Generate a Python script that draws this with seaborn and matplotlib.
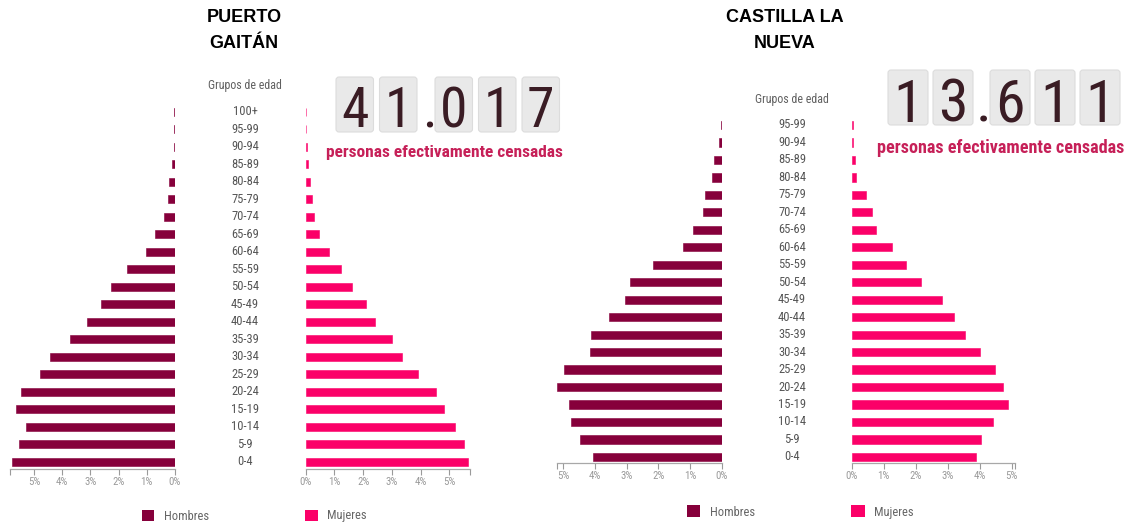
import matplotlib
matplotlib.use("Agg")
import matplotlib.pyplot as plt
import matplotlib.transforms as mtransforms
from matplotlib import font_manager as fm
from matplotlib.patches import FancyBboxPatch, Patch
import numpy as np
import pandas as pd
import seaborn as sns

# ---------------- data ----------------
PG_EDADES = ['100+', '95-99', '90-94', '85-89', '80-84', '75-79', '70-74', '65-69',
             '60-64', '55-59', '50-54', '45-49', '40-44', '35-39', '30-34', '25-29',
             '20-24', '15-19', '10-14', '5-9', '0-4']
PG_HOMBRES = [0.02, 0.02, 0.05, 0.10, 0.20, 0.26, 0.39, 0.70, 1.03, 1.71, 2.28,
              2.62, 3.13, 3.73, 4.42, 4.78, 5.47, 5.64, 5.30, 5.54, 5.77]
PG_MUJERES = [0.01, 0.02, 0.04, 0.08, 0.15, 0.22, 0.29, 0.47, 0.80, 1.23, 1.61,
              2.10, 2.43, 3.01, 3.37, 3.92, 4.53, 4.80, 5.20, 5.51, 5.65]
PG_TITULO = ['PUERTO', 'GAITÁN']
PG_TOTAL = 41017

CLN_EDADES = ['95-99', '90-94', '85-89', '80-84', '75-79', '70-74', '65-69',
              '60-64', '55-59', '50-54', '45-49', '40-44', '35-39', '30-34', '25-29',
              '20-24', '15-19', '10-14', '5-9', '0-4']
CLN_HOMBRES = [0.03, 0.07, 0.23, 0.31, 0.52, 0.60, 0.90, 1.23, 2.16, 2.88, 3.05,
               3.55, 4.13, 4.15, 4.97, 5.18, 4.82, 4.75, 4.46, 4.06]
CLN_MUJERES = [0.05, 0.05, 0.10, 0.12, 0.44, 0.64, 0.76, 1.26, 1.70, 2.16, 2.83,
               3.21, 3.54, 4.02, 4.49, 4.74, 4.87, 4.41, 4.03, 3.88]
CLN_TITULO = ['CASTILLA LA', 'NUEVA']
CLN_TOTAL = 13611

PCT_TICKS = [0, 1, 2, 3, 4, 5]
SUBTITULO = 'personas efectivamente censadas'
EJE_TITULO = 'Grupos de edad'
LEYENDA = ['Hombres', 'Mujeres']

# ---------------- style ----------------
C_H = '#86003b'
C_M = '#fb0068'
C_TXT = '#c62058'
C_DIG = '#3a1c24'

sns.set_theme(style='white')
plt.rcParams['font.family'] = ['Roboto', 'DejaVu Sans']

COND = ['Roboto Condensed', 'IBM Plex Sans Condensed', 'Archivo Narrow',
        'PT Sans Narrow', 'Liberation Sans Narrow', 'Open Sans Condensed',
        'Fira Sans Condensed', 'Encode Sans Condensed', 'Barlow Condensed']


def font(weight):
    ttf = fm.fontManager.ttflist
    first = None
    for c in COND:
        fs = [f for f in ttf if f.name == c and 'italic' not in f.fname.lower()
              and f.style == 'normal']
        if not fs:
            continue
        best = min(fs, key=lambda f: abs(int(f.weight) - weight)
                   if str(f.weight).isdigit() else 999)
        if first is None:
            first = best
        if str(best.weight).isdigit() and abs(int(best.weight) - weight) <= 100:
            return best.fname
    return first.fname if first is not None else None


def fp(weight, size):
    fn = font(weight)
    if fn:
        return fm.FontProperties(fname=fn, size=size)
    return fm.FontProperties(family='Roboto', weight=weight, size=size)


W, H = 1131, 524
fig = plt.figure(figsize=(W / 100, H / 100), dpi=100)
fig.patch.set_facecolor('white')


def add_ax(x0, x1, y0, y1):
    return fig.add_axes([x0 / W, 1 - y1 / H, (x1 - x0) / W, (y1 - y0) / H])


over = fig.add_axes([0, 0, 1, 1])
over.set_xlim(0, W)
over.set_ylim(H, 0)
over.axis('off')
over.patch.set_visible(False)
over.set_zorder(5)


def pct_axis(ax, lim, invert):
    ax.set_xlim(0, lim)
    if invert:
        ax.invert_xaxis()
    ax.set_xticks(PCT_TICKS)
    ax.set_xticklabels([f'{t}%' for t in PCT_TICKS], fontproperties=fp(400, 7.8))
    ax.set_xticks([lim], minor=True)
    ax.tick_params(axis='x', which='both', bottom=True, length=4, width=0.8,
                   color='#9a9a9a', labelcolor='#9a9a9a', pad=2,
                   direction='out')
    ax.set_yticks([])
    ax.set_xlabel('')
    ax.set_ylabel('')
    for s in ['top', 'left', 'right']:
        ax.spines[s].set_visible(False)
    ax.spines['bottom'].set_color('#a8a8a8')
    ax.spines['bottom'].set_linewidth(0.9)
    ax.patch.set_visible(False)


def panel(edades, hombres, mujeres, cfg):
    df = pd.DataFrame({'edad': edades, 'Hombres': hombres, 'Mujeres': mujeres})
    y_top = cfg['row0'] - cfg['step'] / 2
    y_bot = cfg['axis_y']
    ylim_bot = (cfg['axis_y'] - cfg['row0']) / cfg['step']
    axm = add_ax(cfg['mx'][0], cfg['mx'][1], y_top, y_bot)
    axw = add_ax(cfg['wx'][0], cfg['wx'][1], y_top, y_bot)
    sns.barplot(data=df, x='Hombres', y='edad', ax=axm, color=C_H, saturation=1,
                width=0.47, orient='h', order=edades, edgecolor=C_H, linewidth=0.4)
    sns.barplot(data=df, x='Mujeres', y='edad', ax=axw, color=C_M, saturation=1,
                width=0.47, orient='h', order=edades, edgecolor=C_M, linewidth=0.4)
    for a in (axm, axw):
        a.set_ylim(ylim_bot, -0.5)
    pct_axis(axm, cfg['mlim'], True)
    pct_axis(axw, cfg['wlim'], False)

    # age labels
    tr = mtransforms.blended_transform_factory(over.transData, axm.transData)
    for i, e in enumerate(edades):
        over.text(cfg['lab_x'], i, e, transform=tr, ha='center', va='center',
                  fontproperties=fp(400, 9), color='#555555')
    over.text(cfg['lab_x'], cfg['gde_y'], EJE_TITULO, ha='center', va='center',
              fontproperties=fp(400, 8.6), color='#606060')

    # titles
    for k, t in enumerate(cfg['titulo']):
        over.text(cfg['tit_x'], 18 + 25 * k, t, ha='center', va='center',
                  fontsize=13, fontweight='bold', color='black',
                  family='Liberation Sans')

    # counter
    s = f"{cfg['total']:,}".replace(',', '.')
    x = cfg['box_x0']
    bw = cfg['box_w']
    dfp = fp(400, cfg['dig_fs'])
    for ch in s:
        if ch == '.':
            over.text(x + 6, cfg['base'], '.', ha='center', va='baseline',
                      fontproperties=dfp, color=C_DIG)
            x += 12
            continue
        over.add_patch(FancyBboxPatch((x + 2, cfg['box_y0'] + 2), bw - 4,
                                      cfg['box_h'] - 4,
                                      boxstyle='round,pad=2,rounding_size=3',
                                      fc='#e9e9e9', ec='#dcdcdc', lw=0.8))
        over.text(x + bw / 2, cfg['base'], ch, ha='center', va='baseline',
                  fontproperties=dfp, color=C_DIG)
        x += bw + cfg['gap']

    sfp = fp(700, 12)
    t = over.text(cfg['sub_x'], cfg['sub_y'], SUBTITULO, ha='center', va='center',
                  fontproperties=sfp, color=C_TXT)
    r = fig.canvas.get_renderer()
    wpx = t.get_window_extent(r).width
    t.set_fontsize(12 * cfg['sub_w'] / wpx)

    # legends
    for lab, col, lx in zip(LEYENDA, [C_H, C_M], cfg['leg_x']):
        fig.legend(handles=[Patch(facecolor=col, edgecolor='none')], labels=[lab],
                   loc='center left', bbox_to_anchor=(lx / W, 1 - cfg['leg_y'] / H),
                   frameon=False, prop=fp(400, 9), handlelength=cfg['leg_h'],
                   handleheight=cfg['leg_h'], handletextpad=0.75, borderpad=0,
                   borderaxespad=0, labelcolor='#666666')


panel(PG_EDADES, PG_HOMBRES, PG_MUJERES, dict(
    row0=111.7, step=17.5, axis_y=469, mx=(10, 175), wx=(305.7, 470),
    mlim=5.85, wlim=5.72, lab_x=245, gde_y=86, titulo=PG_TITULO, tit_x=244,
    total=PG_TOTAL, box_x0=336, box_w=37.5, gap=6, box_y0=77, box_h=55,
    base=127, dig_fs=40, sub_x=444, sub_y=152, sub_w=238,
    leg_x=(141.7, 305), leg_y=516, leg_h=1.0))

panel(CLN_EDADES, CLN_HOMBRES, CLN_MUJERES, dict(
    row0=125, step=17.47, axis_y=462.5, mx=(556.7, 721.7), wx=(851.7, 1015),
    mlim=5.2, wlim=5.1, lab_x=792, gde_y=100, titulo=CLN_TITULO, tit_x=785,
    total=CLN_TOTAL, box_x0=888, box_w=40, gap=5, box_y0=70, box_h=55,
    base=122, dig_fs=43, sub_x=1001, sub_y=148, sub_w=248,
    leg_x=(686.7, 851), leg_y=512, leg_h=1.1))

fig.savefig('out.png', dpi=100, facecolor='white')
